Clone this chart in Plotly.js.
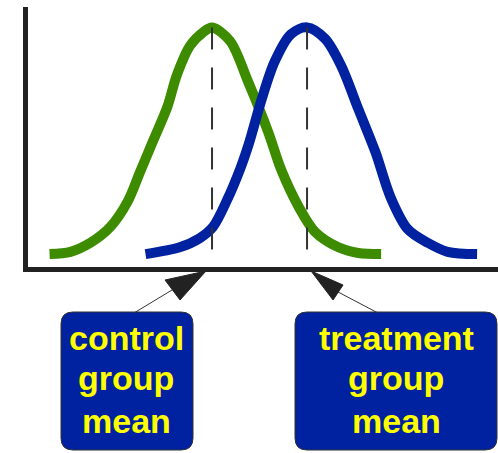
<!DOCTYPE html>
<html><head><meta charset="utf-8">
<script src="https://cdn.plot.ly/plotly-3.0.1.min.js"></script>
<style>html,body{margin:0;padding:0;background:#fff}</style>
</head><body><div id="chart" style="width:498px;height:453px"></div>
<script>
// ---- data ----
const controlX = [32.9, 35.1, 37.2, 39.3, 41.1, 42.4, 43.8, 45.3, 46.3, 47.7, 49.1, 50.0, 51.9, 53.8, 55.9, 57.3, 59.1, 60.8, 63.3, 65.4, 67.8];
const controlY = [0, 0.01, 0.05, 0.12, 0.23, 0.36, 0.50, 0.65, 0.79, 0.92, 0.98, 1.00, 0.94, 0.76, 0.54, 0.37, 0.21, 0.10, 0.03, 0.005, 0];
const treatmentX = [43.0, 46.6, 48.7, 50.1, 51.6, 53.0, 53.9, 55.2, 56.6, 58.3, 60.0, 61.9, 63.6, 65.4, 67.2, 68.8, 70.6, 72.7, 74.8, 77.9];
const treatmentY = [0, 0.03, 0.07, 0.12, 0.24, 0.38, 0.49, 0.68, 0.85, 0.97, 1.00, 0.95, 0.83, 0.64, 0.45, 0.25, 0.11, 0.05, 0.01, 0];
const groupMeans = [50, 60];
const meanPeaks = [1.0, 1.0];
const meanBase = 0.015;
const controlLabel = ["control", "group", "mean"];
const treatmentLabel = ["treatment", "group", "mean"];

// ---- geometry ----
const W = 498, H = 453;
const PL = 28, PR = 498, PT = 7, PB = 267;
const XR = [30.63, 80.1], YR = [-0.057, 1.09];
const px2paperX = px => (px - PL) / (PR - PL);
const py2paperY = py => (PB - py) / (PB - PT);
const x2px = x => PL + (x - XR[0]) / (XR[1] - XR[0]) * (PR - PL);

const GREEN = '#3d8c00', BLUE = '#0022a0', DARK = '#222222', YELLOW = '#ffff00';

const traces = [
  {x: controlX, y: controlY, mode: 'lines', line: {color: GREEN, width: 10, shape: 'spline', smoothing: 0.9}, hoverinfo: 'skip'},
  {x: treatmentX, y: treatmentY, mode: 'lines', line: {color: BLUE, width: 10, shape: 'spline', smoothing: 0.9}, hoverinfo: 'skip'}
];
groupMeans.forEach((m, i) => {
  traces.push({x: [m, m], y: [meanPeaks[i], meanBase], mode: 'lines',
    line: {color: '#333333', width: 2, dash: '22px,18px'}, hoverinfo: 'skip'});
});

function pathFromPx(pts, close) {
  return pts.map((p, i) => (i ? 'L' : 'M') + px2paperX(p[0]).toFixed(5) + ',' + py2paperY(p[1]).toFixed(5)).join(' ') + (close ? ' Z' : '');
}
function roundRect(x0, y0, x1, y1, r) {
  const X = px2paperX, Y = py2paperY;
  return 'M' + X(x0 + r) + ',' + Y(y0) +
    ' L' + X(x1 - r) + ',' + Y(y0) + ' Q' + X(x1) + ',' + Y(y0) + ' ' + X(x1) + ',' + Y(y0 + r) +
    ' L' + X(x1) + ',' + Y(y1 - r) + ' Q' + X(x1) + ',' + Y(y1) + ' ' + X(x1 - r) + ',' + Y(y1) +
    ' L' + X(x0 + r) + ',' + Y(y1) + ' Q' + X(x0) + ',' + Y(y1) + ' ' + X(x0) + ',' + Y(y1 - r) +
    ' L' + X(x0) + ',' + Y(y0 + r) + ' Q' + X(x0) + ',' + Y(y0) + ' ' + X(x0 + r) + ',' + Y(y0) + ' Z';
}

const cm = x2px(groupMeans[0]), tm = x2px(groupMeans[1]);
const shapes = [
  // boxes
  {type: 'path', xref: 'paper', yref: 'paper', path: roundRect(61, 312, 193, 450, 12), fillcolor: BLUE, line: {color: '#333333', width: 1}, layer: 'above'},
  {type: 'path', xref: 'paper', yref: 'paper', path: roundRect(295, 312, 497, 450, 12), fillcolor: BLUE, line: {color: '#333333', width: 1}, layer: 'above'},
  // connector lines
  {type: 'path', xref: 'paper', yref: 'paper', path: pathFromPx([[cm - 40, 290], [134, 313]]), line: {color: '#333333', width: 1}, layer: 'above'},
  {type: 'path', xref: 'paper', yref: 'paper', path: pathFromPx([[tm + 31, 292], [378, 313]]), line: {color: '#333333', width: 1}, layer: 'above'},
  // arrowheads
  {type: 'path', xref: 'paper', yref: 'paper', path: pathFromPx([[cm - 6, 271], [cm - 47, 280], [cm - 32, 300]], true), fillcolor: DARK, line: {color: DARK, width: 1}, layer: 'above'},
  {type: 'path', xref: 'paper', yref: 'paper', path: pathFromPx([[tm + 4, 271], [tm + 36, 285], [tm + 26, 300]], true), fillcolor: DARK, line: {color: DARK, width: 1}, layer: 'above'}
];

const annotations = [];
const lineCenters = [338, 378, 421];
function addLabel(lines, cx) {
  lines.forEach((t, i) => {
    annotations.push({xref: 'paper', yref: 'paper', x: px2paperX(cx), y: py2paperY(lineCenters[i]),
      xanchor: 'center', yanchor: 'middle', showarrow: false, text: '<b>' + t + '</b>',
      font: {family: '"Liberation Sans", Arial, sans-serif', size: 34, color: YELLOW}});
  });
}
addLabel(controlLabel, 126);
addLabel(treatmentLabel, 396);

const layout = {
  width: W, height: H,
  margin: {l: PL, r: W - PR, t: PT, b: H - PB, pad: 0},
  paper_bgcolor: '#ffffff', plot_bgcolor: '#ffffff',
  showlegend: false,
  xaxis: {range: XR, showgrid: false, zeroline: false, showticklabels: false, ticks: '',
    showline: true, linecolor: DARK, linewidth: 5, fixedrange: true},
  yaxis: {range: YR, showgrid: false, zeroline: false, showticklabels: false, ticks: '',
    showline: true, linecolor: DARK, linewidth: 5, fixedrange: true},
  shapes: shapes,
  annotations: annotations
};
Plotly.newPlot('chart', traces, layout, {displayModeBar: false, staticPlot: true});
</script>
</body></html>
